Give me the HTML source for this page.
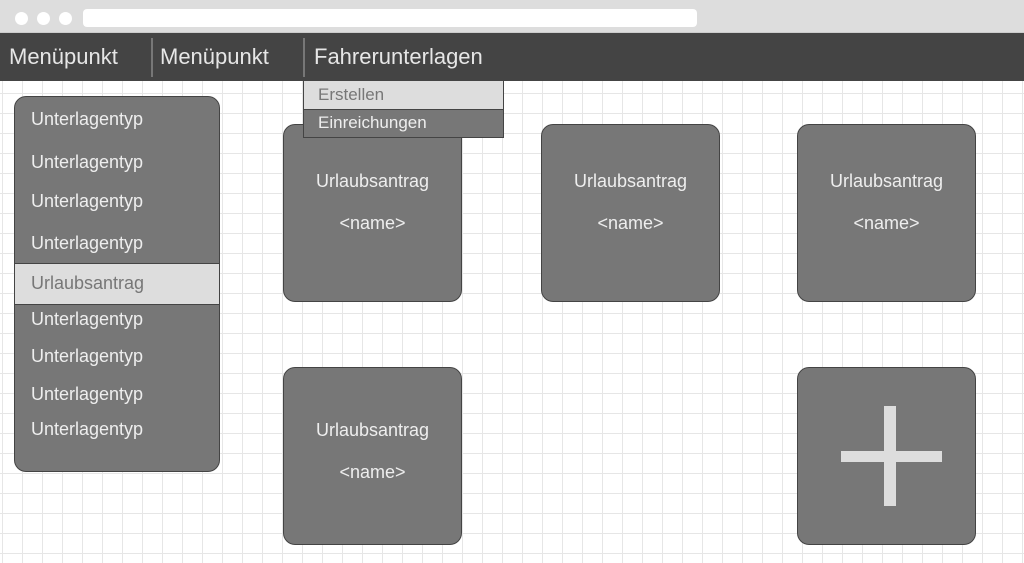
<!DOCTYPE html>
<html><head><style>
body{margin:0;width:1024px;height:563px;overflow:hidden;position:relative;font-family:"Liberation Sans",sans-serif;
background-color:#fff;background-image:linear-gradient(#e6e6e6 1px,transparent 1px),linear-gradient(90deg,#e6e6e6 1px,transparent 1px);background-size:20px 20px;background-position:2px 13px;}
.a{position:absolute;box-sizing:border-box}
.t{position:absolute;white-space:nowrap}
.card{position:absolute;box-sizing:border-box;background:#777;border:1px solid #444;border-radius:12px;width:179px;height:178px;color:#eee;font-size:18px;text-align:center}
.li{position:absolute;left:31px;color:#eee;font-size:18px;line-height:20px}
.z{z-index:5}
</style></head><body>
<div class="a" style="left:0;top:0;width:1024px;height:33px;background:#ddd;border-bottom:1px solid #ccc"></div>
<div class="a" style="left:15px;top:12px;width:13px;height:13px;border-radius:50%;background:#fff"></div>
<div class="a" style="left:37px;top:12px;width:13px;height:13px;border-radius:50%;background:#fff"></div>
<div class="a" style="left:59px;top:12px;width:13px;height:13px;border-radius:50%;background:#fff"></div>
<div class="a" style="left:83px;top:9px;width:614px;height:18px;border-radius:4px;background:#fff"></div>
<div class="a" style="left:0;top:33px;width:1024px;height:48px;background:#444"></div>
<div class="a" style="left:151px;top:38px;width:2px;height:39px;background:#777"></div>
<div class="a" style="left:303px;top:38px;width:2px;height:39px;background:#777"></div>
<div class="t" style="left:9px;top:44px;font-size:22px;color:#e6e6e6">Menüpunkt</div>
<div class="t" style="left:160px;top:44px;font-size:22px;color:#e6e6e6">Menüpunkt</div>
<div class="t" style="left:314px;top:44px;font-size:22px;color:#e6e6e6">Fahrerunterlagen</div>
<div class="a z" style="left:303px;top:81px;width:201px;height:29px;background:#ddd;border:1px solid #444;border-top:none"></div>
<div class="t z" style="left:318px;top:85px;font-size:17px;color:#777">Erstellen</div>
<div class="a z" style="left:303px;top:109px;width:201px;height:29px;background:#777;border:1px solid #444"></div>
<div class="t z" style="left:318px;top:113px;font-size:17px;color:#eee">Einreichungen</div>

<div class="a" style="left:14px;top:96px;width:206px;height:376px;background:#777;border:1px solid #444;border-radius:12px"></div>
<div class="a" style="left:15px;top:263px;width:204px;height:42px;background:#ddd;border-top:1px solid #444;border-bottom:1px solid #444"></div>
<div class="li" style="top:109px">Unterlagentyp</div>
<div class="li" style="top:152px">Unterlagentyp</div>
<div class="li" style="top:191px">Unterlagentyp</div>
<div class="li" style="top:233px">Unterlagentyp</div>
<div class="li" style="top:273px;color:#777">Urlaubsantrag</div>
<div class="li" style="top:309px">Unterlagentyp</div>
<div class="li" style="top:346px">Unterlagentyp</div>
<div class="li" style="top:384px">Unterlagentyp</div>
<div class="li" style="top:419px">Unterlagentyp</div>

<div class="card" style="left:283px;top:124px"><div class="t" style="left:0;right:0;top:46px">Urlaubsantrag</div><div class="t" style="left:0;right:0;top:88px">&lt;name&gt;</div></div>
<div class="card" style="left:541px;top:124px"><div class="t" style="left:0;right:0;top:46px">Urlaubsantrag</div><div class="t" style="left:0;right:0;top:88px">&lt;name&gt;</div></div>
<div class="card" style="left:797px;top:124px"><div class="t" style="left:0;right:0;top:46px">Urlaubsantrag</div><div class="t" style="left:0;right:0;top:88px">&lt;name&gt;</div></div>
<div class="card" style="left:283px;top:367px"><div class="t" style="left:0;right:0;top:52px">Urlaubsantrag</div><div class="t" style="left:0;right:0;top:94px">&lt;name&gt;</div></div>
<div class="card" style="left:797px;top:367px"></div>
<div class="a" style="left:841px;top:451px;width:101px;height:11px;background:#ddd"></div>
<div class="a" style="left:884px;top:406px;width:12px;height:100px;background:#ddd"></div>
</body></html>
